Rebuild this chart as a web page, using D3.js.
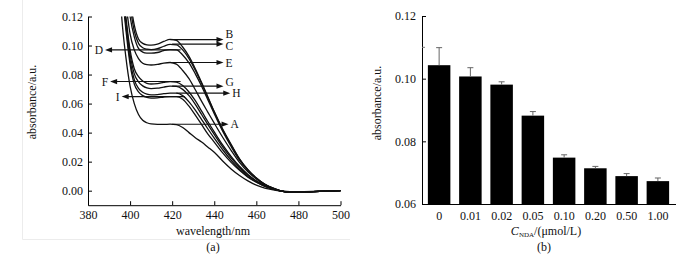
<!DOCTYPE html>
<html>
<head>
<meta charset="utf-8">
<script src="https://cdn.jsdelivr.net/npm/d3@7"></script>
<style>
  body { margin: 0; background: #fff; }
  svg { display: block; }
  text { font-family: "Liberation Serif", "Times New Roman", serif; fill: #111; }
</style>
</head>
<body>
<svg id="chart"></svg>
<script>
//////////////// Daten (a): Spektren ////////////////
const wavelengths = [394, 396, 398, 400, 402, 404, 406, 408, 410, 413, 416, 419, 422, 425, 428, 431, 434, 437, 440, 444, 448, 452, 456, 460, 464, 468, 472, 476, 480, 490, 500];

const specA = [0.17, 0.12, 0.092, 0.072, 0.060, 0.0525, 0.0485, 0.0468, 0.046, 0.0457, 0.0457, 0.0458, 0.0455, 0.0435, 0.040, 0.0365, 0.0335, 0.030, 0.0265, 0.0205, 0.015, 0.0105, 0.0068, 0.0038, 0.0018, 0.0006, -0.0002, -0.0006, -0.0006, -0.0003, 0];
const specB = [0.21, 0.18, 0.155, 0.132, 0.114, 0.1045, 0.1015, 0.1005, 0.1003, 0.101, 0.1028, 0.1042, 0.1035, 0.099, 0.0925, 0.084, 0.0745, 0.0645, 0.0545, 0.0425, 0.032, 0.022, 0.0145, 0.0088, 0.0045, 0.0017, -0.0003, -0.0009, -0.0009, -0.0005, 0];
const specC = [0.205, 0.175, 0.15, 0.127, 0.110, 0.1015, 0.0985, 0.0975, 0.0972, 0.0978, 0.0995, 0.1008, 0.1005, 0.097, 0.091, 0.083, 0.0738, 0.064, 0.0542, 0.042, 0.0315, 0.0218, 0.0143, 0.0087, 0.0044, 0.0017, -0.0003, -0.0009, -0.0009, -0.0005, 0];
const specD = [0.2, 0.17, 0.145, 0.12, 0.106, 0.098, 0.0955, 0.0948, 0.0947, 0.0952, 0.0965, 0.0972, 0.097, 0.0935, 0.088, 0.0805, 0.072, 0.0625, 0.053, 0.041, 0.0305, 0.021, 0.014, 0.0085, 0.0043, 0.0016, -0.0003, -0.0009, -0.0009, -0.0005, 0];
const specE = [0.19, 0.16, 0.13, 0.108, 0.097, 0.091, 0.0878, 0.0868, 0.0866, 0.087, 0.0879, 0.0883, 0.0872, 0.0828, 0.0772, 0.0695, 0.0615, 0.054, 0.0465, 0.0368, 0.0278, 0.0195, 0.013, 0.008, 0.004, 0.0015, -0.0003, -0.0009, -0.0009, -0.0005, 0];
const specF = [0.18, 0.148, 0.12, 0.097, 0.084, 0.0785, 0.0755, 0.074, 0.0735, 0.0738, 0.0746, 0.0752, 0.0748, 0.0725, 0.068, 0.062, 0.0548, 0.0475, 0.0405, 0.0315, 0.0237, 0.0168, 0.0112, 0.0068, 0.0035, 0.0013, -0.0003, -0.0009, -0.0009, -0.0005, 0];
const specG = [0.175, 0.145, 0.117, 0.094, 0.0805, 0.075, 0.0722, 0.0708, 0.0703, 0.0706, 0.0714, 0.072, 0.0718, 0.0698, 0.0655, 0.0595, 0.0525, 0.0455, 0.0388, 0.0302, 0.0226, 0.016, 0.0106, 0.0065, 0.0033, 0.0012, -0.0003, -0.0009, -0.0009, -0.0005, 0];
const specH = [0.17, 0.142, 0.114, 0.09, 0.0765, 0.0705, 0.0678, 0.0665, 0.066, 0.0662, 0.0668, 0.0672, 0.0672, 0.0655, 0.0612, 0.0555, 0.049, 0.0425, 0.0362, 0.0282, 0.021, 0.0148, 0.0098, 0.006, 0.0031, 0.0011, -0.0003, -0.0009, -0.0009, -0.0005, 0];
const specI = [0.168, 0.14, 0.111, 0.087, 0.0735, 0.068, 0.0655, 0.0643, 0.0638, 0.064, 0.0645, 0.0648, 0.0648, 0.063, 0.0582, 0.052, 0.0455, 0.039, 0.0335, 0.026, 0.0195, 0.014, 0.0093, 0.0058, 0.003, 0.0011, -0.0003, -0.0009, -0.0009, -0.0005, 0];

const spectra = [specA, specB, specC, specD, specE, specF, specG, specH, specI];

// Pfeile: Buchstabe, Hoehe, Start- und Zielwellenlaenge
const arrowLabels = ["B", "C", "D", "E", "F", "G", "H", "I", "A"];
const arrowLevels = [0.1041, 0.1010, 0.0970, 0.0883, 0.0752, 0.0720, 0.0672, 0.0648, 0.0458];
const arrowFrom   = [419, 420, 424, 420, 424, 420, 422, 426, 420];
const arrowTo     = [444.4, 444.4, 388.1, 444.4, 390.5, 444.4, 447.6, 396.0, 446.8];

const xTicksA = [380, 400, 420, 440, 460, 480, 500];
const yTicksA = [0, 0.02, 0.04, 0.06, 0.08, 0.10, 0.12];

//////////////// Daten (b): Balken ////////////////
const concentrations = ["0", "0.01", "0.02", "0.05", "0.10", "0.20", "0.50", "1.00"];
const absorbances    = [0.1043, 0.1007, 0.0981, 0.0882, 0.0748, 0.0714, 0.0689, 0.0673];
const errors         = [0.0056, 0.0028, 0.0009, 0.0013, 0.0009, 0.0006, 0.0008, 0.0010];
const yTicksB = [0.06, 0.08, 0.10, 0.12];

//////////////// SVG ////////////////
const svg = d3.select("#chart").attr("width", 698).attr("height", 256);

// feiner Bildrand wie im Original
svg.append("path")
  .attr("d", "M22.5,0V239.5H350")
  .attr("fill", "none").attr("stroke", "#ececec");

//////////////// Panel (a) ////////////////
const xa = d3.scaleLinear().domain([380, 500]).range([88, 340.5]);
const ya = d3.scaleLinear().domain([-0.01, 0.12]).range([205.2, 16.5]);

const gA = svg.append("g");

gA.append("defs").append("clipPath").attr("id", "clipA")
  .append("rect").attr("x", 88).attr("y", 16.5).attr("width", 260).attr("height", 189);

gA.append("g")
  .attr("transform", "translate(0,205.2)")
  .call(d3.axisBottom(xa).tickValues(xTicksA).tickSize(-4).tickPadding(5).tickSizeOuter(0).tickFormat(d3.format("d")))
  .call(g => g.selectAll("text").attr("font-size", 12).attr("font-family", "Liberation Serif"));

gA.append("g")
  .attr("transform", "translate(88,0)")
  .call(d3.axisLeft(ya).tickValues(yTicksA).tickSize(-4).tickPadding(5).tickSizeOuter(0).tickFormat(d3.format(".2f")))
  .call(g => g.selectAll("text").attr("font-size", 12).attr("font-family", "Liberation Serif"));

const line = d3.line()
  .x((d, i) => xa(wavelengths[i]))
  .y(d => ya(d))
  .curve(d3.curveMonotoneX);

gA.append("g").attr("clip-path", "url(#clipA)")
  .selectAll("path.spec")
  .data(spectra)
  .enter()
  .append("path")
  .attr("class", "spec")
  .attr("d", line)
  .attr("fill", "none")
  .attr("stroke", "#111")
  .attr("stroke-width", 1.3);

// Pfeile mit Buchstaben
const labelShift = {B: -5.5, C: 1.5, G: -4};
const arrows = gA.append("g");
arrowLabels.forEach(function(lab, i) {
  const y = ya(arrowLevels[i]);
  const x1 = xa(arrowFrom[i]);
  const x2 = xa(arrowTo[i]);
  const dir = x2 > x1 ? 1 : -1;
  arrows.append("line")
    .attr("x1", x1).attr("x2", x2 - dir * 5).attr("y1", y).attr("y2", y)
    .attr("stroke", "#111").attr("stroke-width", 1.1);
  arrows.append("path")
    .attr("d", "M" + x2 + "," + y + "L" + (x2 - dir * 7) + "," + (y - 2.6) + "L" + (x2 - dir * 7) + "," + (y + 2.6) + "Z")
    .attr("fill", "#111");
  arrows.append("text")
    .attr("x", x2 + dir * 2)
    .attr("y", y + (labelShift[lab] || 0))
    .attr("dy", "0.35em")
    .attr("text-anchor", dir > 0 ? "start" : "end")
    .attr("font-size", 11.5)
    .text(lab);
});

gA.append("text")
  .attr("transform", "translate(36,102) rotate(-90)")
  .attr("text-anchor", "middle")
  .attr("font-size", 12)
  .text("absorbance/a.u.");

gA.append("text")
  .attr("x", 213).attr("y", 235)
  .attr("text-anchor", "middle")
  .attr("font-size", 12)
  .text("wavelength/nm");

gA.append("text")
  .attr("x", 213).attr("y", 251)
  .attr("text-anchor", "middle")
  .attr("font-size", 12)
  .text("(a)");

//////////////// Panel (b) ////////////////
const xb = d3.scaleBand().domain(concentrations).range([423.5, 673.5]).paddingInner(0.28).paddingOuter(0.14);
const yb = d3.scaleLinear().domain([0.06, 0.12]).range([204, 16]);

const gB = svg.append("g");

gB.selectAll("rect.bar")
  .data(absorbances)
  .enter()
  .append("rect")
  .attr("class", "bar")
  .attr("x", (d, i) => xb(concentrations[i]))
  .attr("width", xb.bandwidth())
  .attr("y", d => yb(d))
  .attr("height", d => yb(0.06) - yb(d))
  .attr("fill", "#000");

// Fehlerbalken (nur nach oben)
const eb = gB.selectAll("g.err")
  .data(absorbances)
  .enter()
  .append("g")
  .attr("class", "err");
eb.append("line")
  .attr("x1", (d, i) => xb(concentrations[i]) + xb.bandwidth() / 2)
  .attr("x2", (d, i) => xb(concentrations[i]) + xb.bandwidth() / 2)
  .attr("y1", d => yb(d))
  .attr("y2", (d, i) => yb(d + errors[i]))
  .attr("stroke", "#666").attr("stroke-width", 1);
eb.append("line")
  .attr("x1", (d, i) => xb(concentrations[i]) + xb.bandwidth() / 2 - 3)
  .attr("x2", (d, i) => xb(concentrations[i]) + xb.bandwidth() / 2 + 3)
  .attr("y1", (d, i) => yb(d + errors[i]))
  .attr("y2", (d, i) => yb(d + errors[i]))
  .attr("stroke", "#666").attr("stroke-width", 1);

gB.append("g")
  .attr("transform", "translate(0,204)")
  .call(d3.axisBottom(xb).tickSize(0).tickPadding(7))
  .call(g => g.select(".domain").attr("d", "M422,0.5H676"))
  .call(g => g.selectAll("text").attr("font-size", 12).attr("font-family", "Liberation Serif"));

gB.append("g")
  .attr("transform", "translate(422,0)")
  .call(d3.axisLeft(yb).tickValues(yTicksB).tickSize(-4).tickPadding(6).tickSizeOuter(0).tickFormat(d3.format(".2f")))
  .call(g => g.selectAll("text").attr("font-size", 12).attr("font-family", "Liberation Serif"));

// kleiner Zwischenstrich bei 0.11
gB.append("line")
  .attr("x1", 422).attr("x2", 425)
  .attr("y1", yb(0.11)).attr("y2", yb(0.11))
  .attr("stroke", "#777");

gB.append("text")
  .attr("transform", "translate(381,103) rotate(-90)")
  .attr("text-anchor", "middle")
  .attr("font-size", 12)
  .text("absorbance/a.u.");

const xt = gB.append("text")
  .attr("x", 546).attr("y", 235)
  .attr("text-anchor", "middle")
  .attr("font-size", 12);
xt.append("tspan").attr("font-style", "italic").text("C");
xt.append("tspan").attr("font-size", 7).attr("dy", 2).text("NDA");
xt.append("tspan").attr("dy", -2).text("/(μmol/L)");

gB.append("text")
  .attr("x", 544).attr("y", 251)
  .attr("text-anchor", "middle")
  .attr("font-size", 12)
  .text("(b)");
</script>
</body>
</html>
